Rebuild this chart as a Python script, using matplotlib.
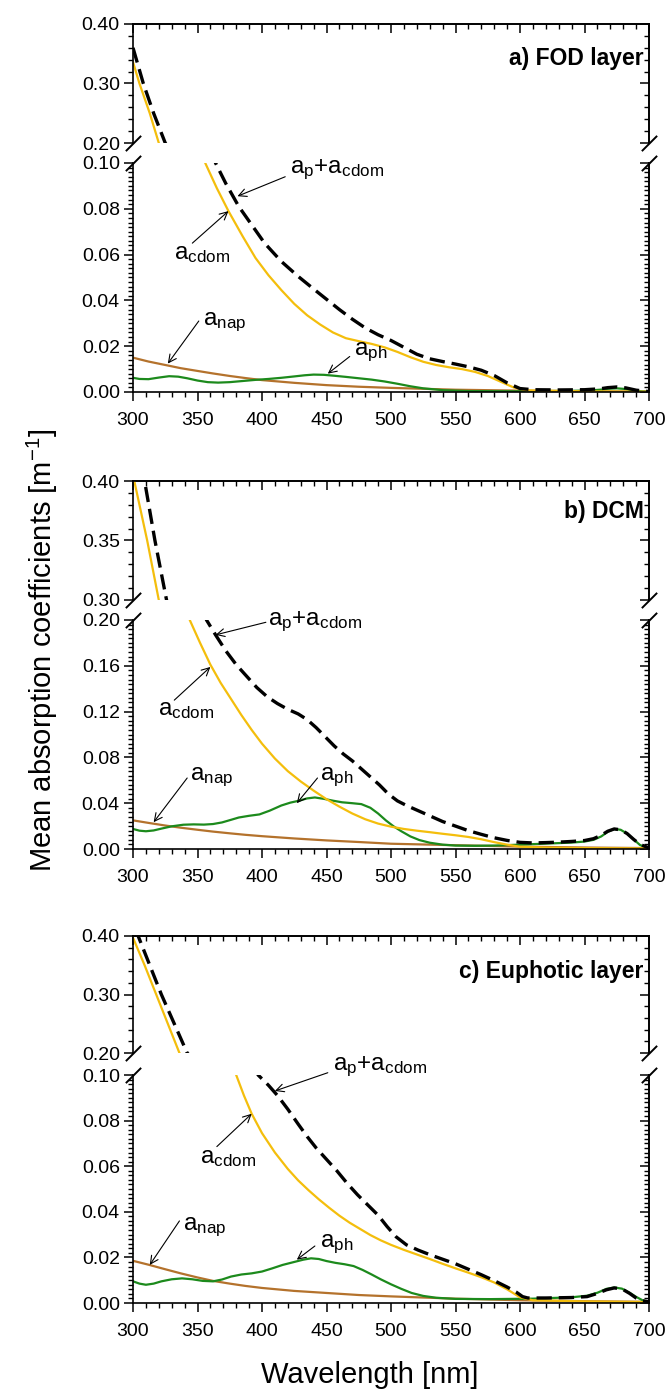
import matplotlib
matplotlib.use('Agg')
import matplotlib.pyplot as plt
from matplotlib.ticker import MultipleLocator, FormatStrFormatter

# Fonts (Arial look-alike, subscripts through mathtext)
plt.rcParams['font.family'] = ['Liberation Sans', 'DejaVu Sans']
plt.rcParams['mathtext.fontset'] = 'custom'
plt.rcParams['mathtext.rm'] = 'Liberation Sans'
plt.rcParams['mathtext.it'] = 'Liberation Sans'
plt.rcParams['mathtext.default'] = 'regular'
plt.rcParams['lines.scale_dashes'] = False

# ---------------- data ----------------
# a) FOD layer
wl_a_tot = [300, 308, 316, 325, 340, 352, 364, 372, 382, 392, 402, 415, 428, 440, 450, 460, 470, 480,
            490, 500, 510, 520, 530, 540, 550, 560, 570, 580, 590, 600, 610, 630, 650, 662, 668, 675,
            682, 690, 700]
tot_a = [0.360, 0.300, 0.250, 0.200, 0.150, 0.122, 0.100, 0.091, 0.081, 0.073, 0.065, 0.057, 0.0505,
         0.045, 0.0405, 0.036, 0.0318, 0.028, 0.025, 0.0225, 0.0195, 0.0165, 0.0145, 0.0133, 0.0122,
         0.011, 0.0095, 0.0072, 0.004, 0.0015, 0.0010, 0.0009, 0.0010, 0.0014, 0.0019, 0.0022, 0.0018,
         0.0008, 0.0002]
wl_a_cdom = [300, 305, 313, 320, 335, 345, 356, 365, 374, 385, 395, 405, 415, 425, 435, 445, 455, 465,
             475, 485, 495, 505, 515, 525, 535, 545, 555, 565, 575, 585, 595, 605, 650, 700]
cdom_a = [0.336, 0.300, 0.250, 0.200, 0.150, 0.124, 0.100, 0.089, 0.079, 0.068, 0.0585, 0.051, 0.0445,
          0.0385, 0.0335, 0.0295, 0.026, 0.0235, 0.0222, 0.021, 0.0195, 0.0175, 0.0152, 0.0132, 0.0118,
          0.0108, 0.0100, 0.0088, 0.007, 0.0045, 0.002, 0.0007, 0.0003, 0.0001]
wl_a_ph = [300, 305, 312, 320, 328, 335, 342, 350, 358, 366, 375, 385, 395, 405, 415, 425, 433, 440,
           448, 456, 465, 475, 485, 495, 505, 515, 525, 540, 560, 600, 640, 655, 662, 668, 675, 682,
           688, 695, 700]
ph_a = [0.0062, 0.0057, 0.0056, 0.0063, 0.0069, 0.0067, 0.0060, 0.0050, 0.0043, 0.0041, 0.0043, 0.0048,
        0.0053, 0.0057, 0.0062, 0.0068, 0.0073, 0.0076, 0.0075, 0.0071, 0.0066, 0.0060, 0.0054, 0.0046,
        0.0036, 0.0025, 0.0016, 0.0008, 0.0004, 0.0003, 0.0005, 0.0007, 0.0010, 0.0014, 0.0016, 0.0013,
        0.0007, 0.0002, 0.0001]

# a_nap wavelengths shared by the three panels
wl_nap = [300, 312, 325, 337, 350, 362, 375, 387, 400, 425, 450, 475, 500, 550, 600, 650, 700]
nap_a = [0.015, 0.0133, 0.0118, 0.0104, 0.0092, 0.0081, 0.0070, 0.0061, 0.0052, 0.0040, 0.0030,
         0.0023, 0.0018, 0.0010, 0.0006, 0.0003, 0.0002]

# b) DCM
wl_b_tot = [300, 309, 317, 326, 340, 357, 364, 372, 380, 388, 396, 404, 412, 420, 428, 435, 442, 449,
            456, 463, 470, 477, 484, 491, 498, 505, 512, 520, 530, 540, 550, 560, 570, 580, 590, 600,
            610, 620, 630, 640, 650, 657, 663, 668, 673, 678, 683, 688, 693, 700]
tot_b = [0.45, 0.40, 0.35, 0.30, 0.25, 0.20, 0.187, 0.173, 0.161, 0.151, 0.141, 0.133, 0.127, 0.122,
         0.118, 0.113, 0.106, 0.098, 0.090, 0.083, 0.077, 0.070, 0.063, 0.056, 0.048, 0.042, 0.038,
         0.034, 0.029, 0.024, 0.020, 0.016, 0.0128, 0.0098, 0.0075, 0.0058, 0.0053, 0.0056, 0.006,
         0.0066, 0.0074, 0.009, 0.012, 0.0155, 0.0175, 0.0168, 0.0135, 0.0085, 0.004, 0.001]
wl_b_cdom = [300, 311, 320, 332, 344, 352, 360, 368, 376, 384, 392, 400, 410, 420, 430, 440, 450, 460,
             470, 480, 490, 500, 510, 520, 530, 540, 550, 560, 570, 580, 590, 600, 620, 650, 700]
cdom_b = [0.405, 0.35, 0.30, 0.25, 0.20, 0.18, 0.161, 0.145, 0.131, 0.117, 0.104, 0.092, 0.079, 0.068,
          0.059, 0.051, 0.0435, 0.037, 0.031, 0.026, 0.0222, 0.0195, 0.0175, 0.016, 0.0147, 0.0133,
          0.012, 0.0105, 0.0085, 0.006, 0.0038, 0.002, 0.0012, 0.0008, 0.0004]
wl_b_ph = [300, 305, 310, 316, 322, 330, 339, 347, 355, 362, 369, 376, 382, 390, 398, 406, 415, 422,
           428, 435, 441, 448, 455, 462, 470, 477, 484, 490, 496, 502, 508, 515, 522, 530, 540, 550,
           565, 580, 600, 620, 640, 650, 657, 663, 668, 673, 678, 683, 688, 693, 700]
ph_b = [0.0175, 0.016, 0.0155, 0.0162, 0.0178, 0.0198, 0.0212, 0.0215, 0.0213, 0.0218, 0.0232, 0.0255,
        0.0275, 0.029, 0.0302, 0.0335, 0.038, 0.0405, 0.042, 0.0442, 0.045, 0.0438, 0.0422, 0.0408,
        0.0400, 0.0392, 0.036, 0.031, 0.025, 0.0198, 0.0155, 0.011, 0.0078, 0.0055, 0.0038, 0.003,
        0.0028, 0.003, 0.0038, 0.0047, 0.0056, 0.0065, 0.008, 0.011, 0.015, 0.0175, 0.0168, 0.0135,
        0.0085, 0.0035, 0.0006]
nap_b = [0.025, 0.0228, 0.0205, 0.0186, 0.0168, 0.0152, 0.0137, 0.0124, 0.0112, 0.0092, 0.0075,
         0.0061, 0.0046, 0.0033, 0.0021, 0.0013, 0.0008]

# c) Euphotic layer
wl_c_tot = [300, 304, 313, 322, 332, 342, 355, 368, 382, 397, 405, 412, 420, 428, 435, 442, 450, 458,
            466, 474, 482, 490, 497, 504, 512, 521, 531, 541, 550, 560, 570, 580, 590, 597, 602, 606,
            620, 640, 652, 660, 667, 673, 679, 685, 690, 695, 700]
tot_c = [0.41, 0.40, 0.35, 0.30, 0.25, 0.20, 0.17, 0.145, 0.12, 0.10, 0.0955, 0.091, 0.085, 0.0785,
         0.073, 0.068, 0.063, 0.058, 0.0525, 0.0475, 0.043, 0.0385, 0.0335, 0.029, 0.0255, 0.0232,
         0.021, 0.019, 0.0172, 0.0148, 0.0124, 0.0098, 0.007, 0.0048, 0.0028, 0.0022, 0.0022, 0.0024,
         0.0028, 0.0042, 0.0058, 0.0066, 0.0062, 0.0042, 0.0022, 0.001, 0.0005]
wl_c_cdom = [300, 309, 318, 327, 336, 350, 365, 380, 386, 392, 400, 410, 420, 428, 436, 444, 452, 460,
             468, 476, 484, 492, 500, 510, 520, 530, 540, 550, 560, 570, 580, 590, 600, 610, 650, 700]
cdom_c = [0.397, 0.35, 0.30, 0.25, 0.20, 0.16, 0.128, 0.10, 0.091, 0.083, 0.0745, 0.066, 0.0588,
          0.0538, 0.0495, 0.0455, 0.0418, 0.0383, 0.0352, 0.0325, 0.0298, 0.0275, 0.0255, 0.0233,
          0.0213, 0.0193, 0.0172, 0.0152, 0.0133, 0.0113, 0.009, 0.006, 0.0025, 0.0012, 0.0007, 0.0004]
wl_c_ph = [300, 305, 310, 316, 322, 330, 338, 346, 354, 362, 369, 376, 384, 392, 400, 408, 416, 425,
           432, 438, 444, 450, 457, 464, 471, 478, 485, 492, 500, 508, 516, 525, 535, 550, 577, 610,
           640, 652, 660, 667, 673, 679, 685, 690, 695, 700]
ph_c = [0.0095, 0.0085, 0.008, 0.0085, 0.0095, 0.0104, 0.0108, 0.0104, 0.0097, 0.0095, 0.0103, 0.0116,
        0.0125, 0.013, 0.0138, 0.0152, 0.0167, 0.018, 0.019, 0.0196, 0.0193, 0.0184, 0.0176, 0.0170,
        0.0162, 0.0145, 0.0125, 0.0104, 0.0082, 0.0062, 0.0044, 0.0031, 0.0023, 0.0018, 0.0017, 0.0019,
        0.0025, 0.0032, 0.0045, 0.0062, 0.0068, 0.0063, 0.0045, 0.0027, 0.0012, 0.0003]
nap_c = [0.0185, 0.0168, 0.0148, 0.0130, 0.0112, 0.0097, 0.0085, 0.0075, 0.0066, 0.0053, 0.0044,
         0.0035, 0.0029, 0.0019, 0.0012, 0.0008, 0.0005]

panel_titles = ['a) FOD layer', 'b) DCM', 'c) Euphotic layer']
x_ticks = [300, 350, 400, 450, 500, 550, 600, 650, 700]

# ---------------- styling ----------------
C_TOT = 'black'
C_CDOM = '#F4BE0C'
C_PH = '#1C8A1C'
C_NAP = '#B4722C'

W, H = 669, 1390
fig = plt.figure(figsize=(W / 100, H / 100), dpi=100)


def rect(top_px, bot_px):
    # axes rectangle from pixel rows of the reference
    return [133 / W, 1 - bot_px / H, 516 / W, (bot_px - top_px) / H]


def style_axis(ax, ylim, major, minor, top_part):
    ax.set_xlim(300, 700)
    ax.set_ylim(*ylim)
    ax.xaxis.set_major_locator(MultipleLocator(50))
    ax.xaxis.set_minor_locator(MultipleLocator(10))
    ax.yaxis.set_major_locator(MultipleLocator(major))
    ax.yaxis.set_minor_locator(MultipleLocator(minor))
    ax.yaxis.set_major_formatter(FormatStrFormatter('%.2f'))
    for s in ax.spines.values():
        s.set_linewidth(1.2)
    ax.tick_params(axis='both', which='major', direction='out', length=6.5, width=1.1, labelsize=14)
    ax.tick_params(axis='both', which='minor', direction='out', length=3.5, width=1.0)
    ax.tick_params(axis='y', right=False, pad=3)
    ax.tick_params(axis='x', top=False, pad=8)
    # right side ticks point inward
    sec_y = ax.secondary_yaxis('right')
    sec_y.yaxis.set_major_locator(MultipleLocator(major))
    sec_y.yaxis.set_minor_locator(MultipleLocator(minor))
    sec_y.tick_params(which='major', direction='in', length=6.5, width=1.1, labelright=False)
    sec_y.tick_params(which='minor', direction='in', length=3.5, width=1.0)
    sec_y.spines['right'].set_linewidth(1.2)
    if top_part:
        ax.spines['bottom'].set_visible(False)
        ax.tick_params(axis='x', which='both', bottom=False, labelbottom=False)
        sec_x = ax.secondary_xaxis('top')
        sec_x.xaxis.set_major_locator(MultipleLocator(50))
        sec_x.xaxis.set_minor_locator(MultipleLocator(10))
        sec_x.tick_params(which='major', direction='in', length=6.5, width=1.1, labeltop=False)
        sec_x.tick_params(which='minor', direction='in', length=3.5, width=1.0)
        sec_x.spines['top'].set_linewidth(1.2)
    else:
        ax.spines['top'].set_visible(False)
        ax.set_xticks(x_ticks)


def break_marks(ax, y):
    ax.plot([0, 1], [y, y], transform=ax.transAxes, marker=[(-1, -1), (1, 1)], markersize=11,
            linestyle='none', color='k', mec='k', mew=1.4, clip_on=False, zorder=10)


def label(ax, text, pos, tail, head):
    ax.text(pos[0], pos[1], text, fontsize=17.5, ha='left', va='baseline')
    ax.annotate('', xy=head, xytext=tail,
                arrowprops=dict(arrowstyle='->', color='k', lw=0.8, shrinkA=0, shrinkB=0,
                                mutation_scale=14))


def draw_panel(ax_t, ax_b, wl_tot, tot, wl_cdom, cdom, wl_ph, ph, nap):
    for ax in (ax_t, ax_b):
        ax.plot(wl_nap, nap, color=C_NAP, lw=1.6)
        ax.plot(wl_ph, ph, color=C_PH, lw=1.6)
        ax.plot(wl_cdom, cdom, color=C_CDOM, lw=1.6)
        ax.plot(wl_tot, tot, color=C_TOT, lw=2.4, dashes=(11, 5))


layouts = [
    (rect(24, 143), rect(163, 392), (0.20, 0.40), 0.10, 0.02, (0.0, 0.10), 0.02, 0.002),
    (rect(481, 600), rect(620, 849), (0.30, 0.40), 0.05, 0.01, (0.0, 0.20), 0.04, 0.004),
    (rect(936, 1053), rect(1075, 1303), (0.20, 0.40), 0.10, 0.02, (0.0, 0.10), 0.02, 0.002),
]
series = [
    (wl_a_tot, tot_a, wl_a_cdom, cdom_a, wl_a_ph, ph_a, nap_a),
    (wl_b_tot, tot_b, wl_b_cdom, cdom_b, wl_b_ph, ph_b, nap_b),
    (wl_c_tot, tot_c, wl_c_cdom, cdom_c, wl_c_ph, ph_c, nap_c),
]
title_y = [0.342, 0.374, 0.340]

# label text anchor, arrow tail, arrow head (in data units of the lower axes)
labels = [
    {'tot': ((422, 0.0955), (418, 0.094), (381, 0.0855)),
     'cdom': ((332, 0.058), (346, 0.065), (374, 0.079)),
     'nap': ((354, 0.029), (351, 0.031), (327, 0.0124)),
     'ph': ((471, 0.016), (468, 0.0155), (451, 0.008))},
    {'tot': ((405, 0.1957), (403, 0.198), (364, 0.187)),
     'cdom': ((319, 0.117), (332, 0.130), (360, 0.159)),
     'nap': ((344, 0.060), (342, 0.062), (316, 0.0234)),
     'ph': ((445, 0.060), (443, 0.062), (427, 0.040))},
    {'tot': ((455, 0.102), (451, 0.101), (410, 0.093)),
     'cdom': ((352, 0.0612), (365, 0.0686), (392, 0.083)),
     'nap': ((339, 0.032), (336, 0.036), (313, 0.0167)),
     'ph': ((445, 0.0247), (441, 0.025), (427, 0.019))},
]
label_text = {'tot': r'$a_p$+$a_{cdom}$', 'cdom': r'$a_{cdom}$', 'nap': r'$a_{nap}$', 'ph': r'$a_{ph}$'}

for i in range(3):
    r_top, r_bot, ylim_t, maj_t, min_t, ylim_b, maj_b, min_b = layouts[i]
    ax_t = fig.add_axes(r_top)
    ax_b = fig.add_axes(r_bot)
    style_axis(ax_t, ylim_t, maj_t, min_t, True)
    style_axis(ax_b, ylim_b, maj_b, min_b, False)
    draw_panel(ax_t, ax_b, *series[i])
    break_marks(ax_t, 0.0)
    break_marks(ax_b, 1.0)
    ax_t.text(696, title_y[i], panel_titles[i], ha='right', va='center', fontsize=16.5,
              fontweight='bold')
    for key, (pos, tail, head) in labels[i].items():
        label(ax_b, label_text[key], pos, tail, head)

fig.text(0.063, 0.532, 'Mean absorption coefficients [m$^{-1}$]', rotation=90,
         ha='center', va='center', fontsize=21)
fig.text(0.553, 0.011, 'Wavelength [nm]', ha='center', va='center', fontsize=21)

fig.savefig('out.png', dpi=100)
